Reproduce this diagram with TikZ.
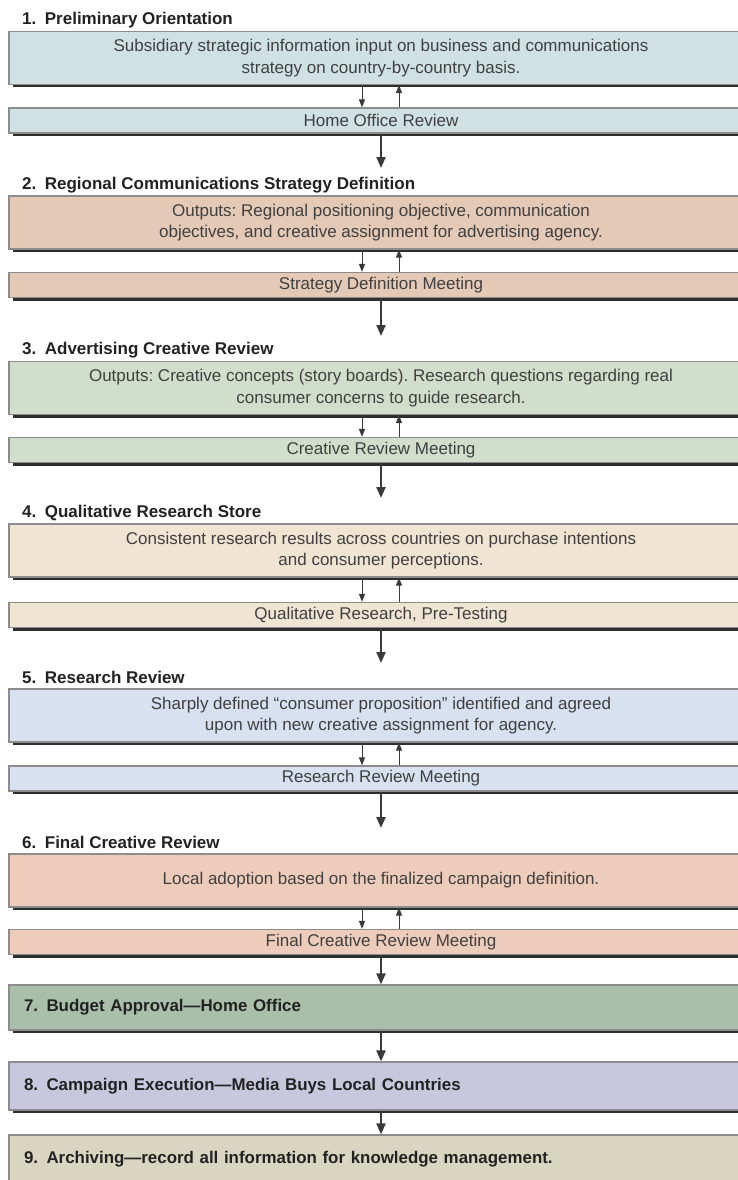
\documentclass[tikz,border=0pt]{standalone}
\usepackage{fontspec}
\setmainfont{Liberation Sans}
\frenchspacing
\usetikzlibrary{arrows.meta,shadows}
\definecolor{c1}{HTML}{D0E1E3}
\definecolor{c2}{HTML}{E4C9B7}
\definecolor{c3}{HTML}{D2DECC}
\definecolor{c4}{HTML}{F0E4D3}
\definecolor{c5}{HTML}{D7E1F0}
\definecolor{c6}{HTML}{EECCBB}
\definecolor{c7}{HTML}{A9BFA9}
\definecolor{c8}{HTML}{C9C7DE}
\definecolor{c9}{HTML}{D8D6C1}
\definecolor{boxedge}{HTML}{8C8C8C}
\definecolor{shadowc}{HTML}{2E2E2E}
\definecolor{bodytext}{HTML}{404040}
\definecolor{titletext}{HTML}{222222}
\definecolor{arrowc}{HTML}{3A3A3A}
\begin{document}
\begin{tikzpicture}[x=1pt,y=-1pt,
  box/.style={draw=boxedge, line width=1.2pt, minimum width=744pt, text=bodytext,
    font=\frenchspacing\fontsize{17}{21.5}\selectfont, align=center, inner sep=0pt,
    drop shadow={shadow xshift=4pt, shadow yshift=-3pt, fill=shadowc, opacity=1}},
  big/.style={box, minimum height=53pt},
  small/.style={box, minimum height=25pt},
  phase/.style={box, text width=714pt, align=left,
    font=\frenchspacing\bfseries\fontsize{16.9}{20}\selectfont, text=titletext},
  title/.style={anchor=base west, font=\bfseries\fontsize{17}{20}\selectfont,
    text=titletext, inner sep=0pt},
  sarrow/.style={draw=arrowc, line width=1pt, -{Triangle[width=6pt,length=8pt]}},
  barrow/.style={draw=arrowc, line width=2.2pt, -{Triangle[width=9pt,length=11pt]}}
]
\useasboundingbox (0,0) rectangle (738,1180);
\clip (0,0) rectangle (738,1180);

% Section 1
\node[title] (t1) at (22,25) {1.\enspace Preliminary Orientation};
\node[big, fill=c1] (b1) at (381,58) {Subsidiary strategic information input on business and communications\\strategy on country-by-country basis.};
\node[small, fill=c1] (s1) at (381,120.5) {Home Office Review};
\draw[sarrow] ([xshift=-19pt]b1.south) -- ([xshift=-19pt]s1.north);
\draw[sarrow] ([xshift=18pt]s1.north) -- ([xshift=18pt]b1.south);
\coordinate (e1) at (381,168);
\draw[barrow] (s1.south) -- (e1);

% Section 2
\node[title] (t2) at (22,189) {2.\enspace Regional Communications Strategy Definition};
\node[big, fill=c2] (b2) at (381,222.5) {Outputs: Regional positioning objective, communication\\objectives, and creative assignment for advertising agency.};
\node[small, fill=c2] (s2) at (381,285) {Strategy Definition Meeting};
\draw[sarrow] ([xshift=-19pt]b2.south) -- ([xshift=-19pt]s2.north);
\draw[sarrow] ([xshift=18pt]s2.north) -- ([xshift=18pt]b2.south);
\coordinate (e2) at (381,336);
\draw[barrow] (s2.south) -- (e2);

% Section 3
\node[title] (t3) at (22,354.5) {3.\enspace Advertising Creative Review};
\node[big, fill=c3] (b3) at (381,388) {Outputs: Creative concepts (story boards). Research questions regarding real\\consumer concerns to guide research.};
\node[small, fill=c3] (s3) at (381,450) {Creative Review Meeting};
\draw[sarrow] ([xshift=-19pt]b3.south) -- ([xshift=-19pt]s3.north);
\draw[sarrow] ([xshift=18pt]s3.north) -- ([xshift=18pt]b3.south);
\coordinate (e3) at (381,498);
\draw[barrow] (s3.south) -- (e3);

% Section 4
\node[title] (t4) at (22,517.5) {4.\enspace Qualitative Research Store};
\node[big, fill=c4] (b4) at (381,550.5) {Consistent research results across countries on purchase intentions\\and consumer perceptions.};
\node[small, fill=c4] (s4) at (381,615) {Qualitative Research, Pre-Testing};
\draw[sarrow] ([xshift=-19pt]b4.south) -- ([xshift=-19pt]s4.north);
\draw[sarrow] ([xshift=18pt]s4.north) -- ([xshift=18pt]b4.south);
\coordinate (e4) at (381,663);
\draw[barrow] (s4.south) -- (e4);

% Section 5
\node[title] (t5) at (22,683) {5.\enspace Research Review};
\node[big, fill=c5] (b5) at (381,715.5) {Sharply defined ``consumer proposition'' identified and agreed\\upon with new creative assignment for agency.};
\node[small, fill=c5] (s5) at (381,778.5) {Research Review Meeting};
\draw[sarrow] ([xshift=-19pt]b5.south) -- ([xshift=-19pt]s5.north);
\draw[sarrow] ([xshift=18pt]s5.north) -- ([xshift=18pt]b5.south);
\coordinate (e5) at (381,828);
\draw[barrow] (s5.south) -- (e5);

% Section 6
\node[title] (t6) at (22,848) {6.\enspace Final Creative Review};
\node[big, fill=c6] (b6) at (381,880.5) {Local adoption based on the finalized campaign definition.};
\node[small, fill=c6] (s6) at (381,942) {Final Creative Review Meeting};
\draw[sarrow] ([xshift=-19pt]b6.south) -- ([xshift=-19pt]s6.north);
\draw[sarrow] ([xshift=18pt]s6.north) -- ([xshift=18pt]b6.south);

% Phases 7-9
\node[phase, fill=c7, minimum height=45pt] (b7) at (381,1007.5) {7.\enspace Budget Approval---Home Office};
\node[phase, fill=c8, minimum height=48pt] (b8) at (381,1086) {8.\enspace Campaign Execution---Media Buys Local Countries};
\node[phase, fill=c9, minimum height=48pt] (b9) at (381,1159) {9.\enspace Archiving---record all information for knowledge management.};
\draw[barrow] (s6.south) -- (b7.north);
\draw[barrow] (b7.south) -- (b8.north);
\draw[barrow] (b8.south) -- (b9.north);
\end{tikzpicture}
\end{document}
